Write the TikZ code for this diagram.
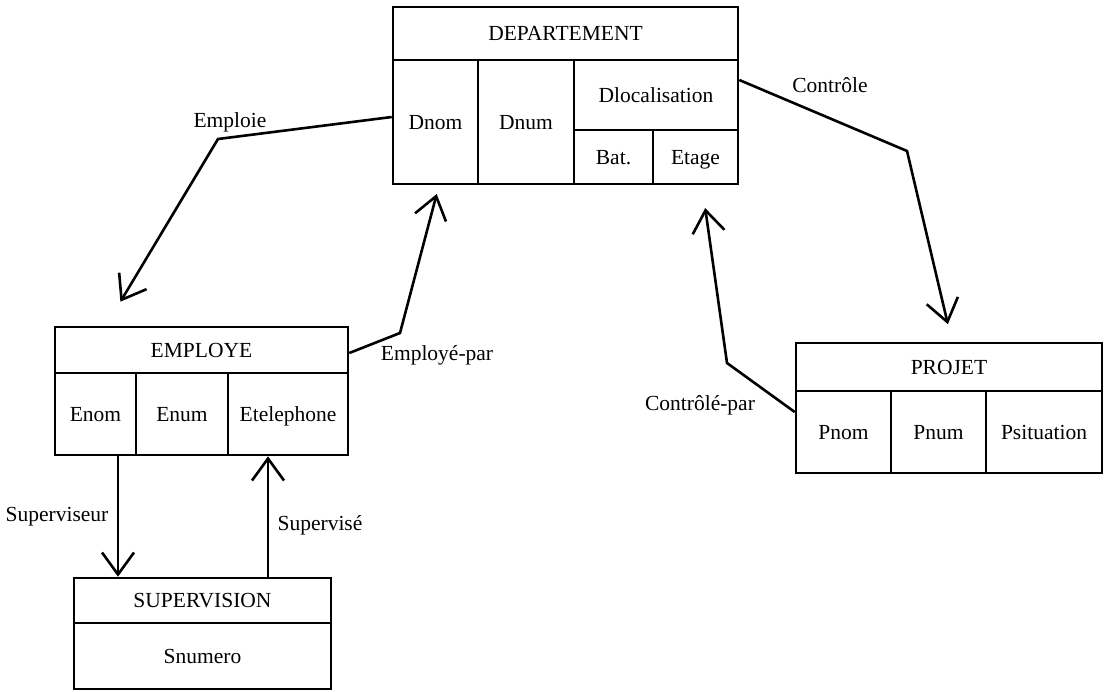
\documentclass[tikz,border=0pt]{standalone}
\usepackage{fontspec}
\setmainfont{Liberation Serif}
\usetikzlibrary{arrows.meta,calc}
\tikzset{
  cell/.style={draw, line width=2.6pt, inner sep=0pt, anchor=center,
    text height=14pt, text depth=0pt},
  lbl/.style={inner sep=1pt},
  link/.style={line width=2.6pt, line join=miter},
  open/.style={-{Straight Barb[length=22pt,width=32pt,line width=2.6pt]}},
}
% \ercell{name}{x1}{y1}{x2}{y2}{text}
\newcommand{\ercell}[6]{%
  \node[cell, minimum width={(#4)-(#2)}, minimum height={(#5)-(#3)}]
    (#1) at ({((#2)+(#4))/2},{((#3)+(#5))/2}) {#6};}
\begin{document}
\begin{tikzpicture}[x=1pt,y=-1pt,font=\fontsize{21.5}{25}\selectfont]
\useasboundingbox (0,0) rectangle (1105,691);

% DEPARTEMENT
\ercell{dept}{393}{7}{738}{184}{}
\ercell{depth}{393}{7}{738}{60}{DEPARTEMENT}
\ercell{dnom}{393}{60}{478}{184}{Dnom}
\ercell{dnum}{478}{60}{574}{184}{Dnum}
\ercell{dloc}{574}{60}{738}{130}{Dlocalisation}
\ercell{bat}{574}{130}{653}{184}{Bat.}
\ercell{etage}{653}{130}{738}{184}{Etage}

% EMPLOYE
\ercell{emp}{55}{327}{348}{455}{}
\ercell{emph}{55}{327}{348}{373}{EMPLOYE}
\ercell{enom}{55}{373}{136}{455}{Enom}
\ercell{enum}{136}{373}{228}{455}{Enum}
\ercell{etel}{228}{373}{348}{455}{Etelephone}

% SUPERVISION
\ercell{sup}{74}{578}{331}{689}{}
\ercell{suph}{74}{578}{331}{623}{SUPERVISION}
\ercell{snum}{74}{623}{331}{689}{Snumero}

% PROJET
\ercell{proj}{796}{343}{1102}{473}{}
\ercell{projh}{796}{343}{1102}{391}{PROJET}
\ercell{pnom}{796}{391}{891}{473}{Pnom}
\ercell{pnum}{891}{391}{986}{473}{Pnum}
\ercell{psit}{986}{391}{1102}{473}{Psituation}

% bends of the connectors
\coordinate (kEmploie) at (218,139);
\coordinate (kEmployePar) at (400,333);
\coordinate (kControle) at (907,151);
\coordinate (kControlePar) at (727,363);

% ends of the connectors on the box edges
\coordinate (aEmploie) at (106,0 |- emp.north);
\coordinate (aEmployePar) at (439,0 |- dept.south);
\coordinate (aControle) at (952,0 |- proj.north);
\coordinate (aControlePar) at (702,0 |- dept.south);
\coordinate (sSup) at (118,0 |- emp.south);
\coordinate (eSup) at (118,0 |- sup.north);
\coordinate (sSupd) at (268,0 |- sup.north);
\coordinate (eSupd) at (268,0 |- emp.south);

% connectors
\draw[link,open,shorten >=28pt] (dnom.west |- 0,117) -- (kEmploie) -- (aEmploie);
\draw[link,open,shorten >=9pt] (emph.east |- 0,353) -- (kEmployePar) -- (aEmployePar);
\draw[link,open,shorten >=18pt] (dloc.east |- 0,80) -- (kControle) -- (aControle);
\draw[link,open,shorten >=23pt] (pnom.west |- 0,412) -- (kControlePar) -- (aControlePar);
\draw[link,open] (sSup) -- (eSup);
\draw[link,open] (sSupd) -- (eSupd);

% role labels
\node[lbl] (tEmploie) at (230,122) {Emploie};
\node[lbl] (tEmployePar) at (437,355) {Employé-par};
\node[lbl] (tControle) at (830,85) {Contrôle};
\node[lbl] (tControlePar) at (700,405) {Contrôlé-par};
\node[lbl] (tSuperviseur) at (57,517) {Superviseur};
\node[lbl] (tSupervise) at (320,525) {Supervisé};
\end{tikzpicture}
\end{document}
